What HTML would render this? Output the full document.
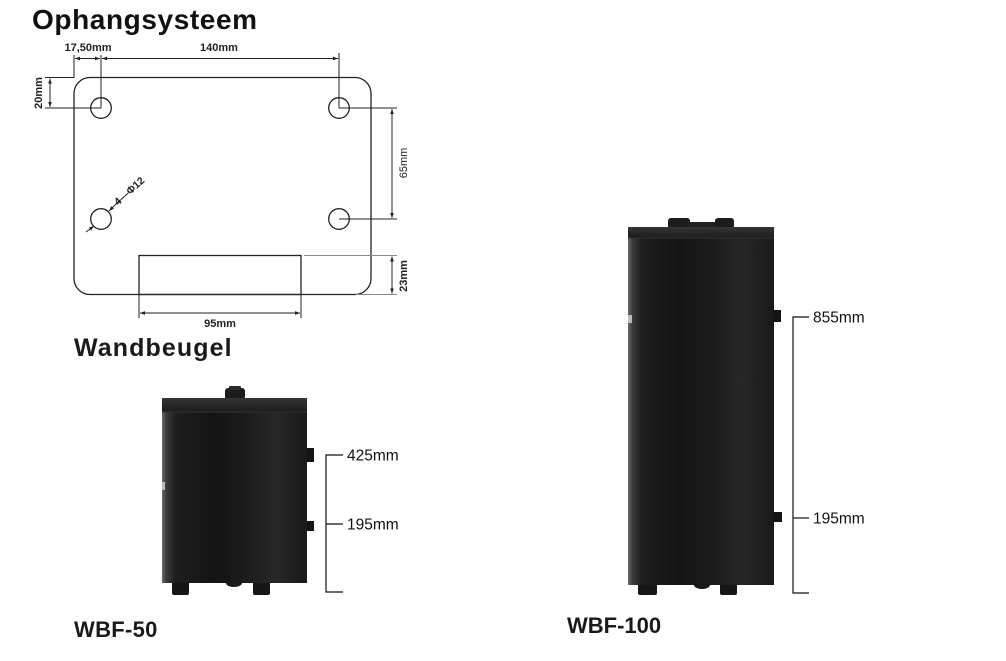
<!DOCTYPE html>
<html><head><meta charset="utf-8">
<style>
html,body{margin:0;padding:0;background:#fff;}
body{width:1006px;height:661px;overflow:hidden;position:relative;font-family:"Liberation Sans",sans-serif;}
svg{position:absolute;left:0;top:0;}
</style></head><body>
<svg width="1006" height="661" viewBox="0 0 1006 661" xmlns="http://www.w3.org/2000/svg">
<defs>
<linearGradient id="tank" x1="0" x2="1" y1="0" y2="0">
<stop offset="0" stop-color="#6a6a6a"/>
<stop offset="0.03" stop-color="#3c3c3c"/>
<stop offset="0.09" stop-color="#1e1e1e"/>
<stop offset="0.35" stop-color="#141414"/>
<stop offset="0.55" stop-color="#1a1a1a"/>
<stop offset="0.78" stop-color="#272727"/>
<stop offset="0.92" stop-color="#1e1e1e"/>
<stop offset="1" stop-color="#1a1a1a"/>
</linearGradient>
<linearGradient id="cap" x1="0" x2="0" y1="0" y2="1">
<stop offset="0" stop-color="#353535"/>
<stop offset="1" stop-color="#1c1c1c"/>
</linearGradient>
<marker id="ar" viewBox="0 0 6 6" refX="6" refY="3" markerWidth="5" markerHeight="5" orient="auto-start-reverse">
<path d="M0,0.8 L6,3 L0,5.2 z" fill="#222"/>
</marker>
</defs>

<!-- Titles -->
<text x="32" y="29" font-size="28" font-weight="bold" letter-spacing="0.6" fill="#111">Ophangsysteem</text>
<text x="74" y="356" font-size="25" font-weight="bold" letter-spacing="1.1" fill="#1a1a1a">Wandbeugel</text>
<text x="74" y="637" font-size="22" font-weight="bold" letter-spacing="0.3" fill="#1a1a1a">WBF-50</text>
<text x="567" y="633" font-size="22" font-weight="bold" fill="#1a1a1a">WBF-100</text>

<!-- Plate -->
<g fill="none" stroke="#222" stroke-width="1.3">
<rect x="74" y="77.5" width="297" height="217" rx="16"/>
<circle cx="101" cy="108" r="10.3"/>
<circle cx="339" cy="108" r="10.3"/>
<circle cx="101" cy="219" r="10.3"/>
<circle cx="339" cy="219" r="10.3"/>
<rect x="139" y="255.5" width="162" height="39"/>
</g>

<!-- dimension lines -->
<g fill="none" stroke="#222" stroke-width="1">
<line x1="74" y1="55" x2="74" y2="78"/>
<line x1="101" y1="55" x2="101" y2="108"/>
<line x1="339" y1="53" x2="339" y2="108"/>
<line x1="75" y1="58.5" x2="100" y2="58.5" marker-start="url(#ar)" marker-end="url(#ar)"/>
<line x1="102" y1="58.5" x2="338" y2="58.5" marker-start="url(#ar)" marker-end="url(#ar)"/>
<line x1="45" y1="77.5" x2="74" y2="77.5"/>
<line x1="45" y1="108" x2="101" y2="108"/>
<line x1="50" y1="78.5" x2="50" y2="107" marker-start="url(#ar)" marker-end="url(#ar)"/>
<line x1="339" y1="108" x2="397" y2="108"/>
<line x1="339" y1="219" x2="397" y2="219"/>
<line x1="392" y1="109" x2="392" y2="218" marker-start="url(#ar)" marker-end="url(#ar)"/>
<line x1="304" y1="255.5" x2="397" y2="255.5" stroke="#888"/>
<line x1="356" y1="294.5" x2="397" y2="294.5" stroke="#888"/>
<line x1="392" y1="256.5" x2="392" y2="293.5" marker-start="url(#ar)" marker-end="url(#ar)"/>
<line x1="139" y1="295" x2="139" y2="318"/>
<line x1="301" y1="295" x2="301" y2="318"/>
<line x1="140" y1="313" x2="300" y2="313" marker-start="url(#ar)" marker-end="url(#ar)"/>
<line x1="86" y1="232" x2="94" y2="226" marker-end="url(#ar)"/>
<line x1="120" y1="200" x2="109" y2="211" marker-end="url(#ar)"/>
</g>

<!-- dim texts -->
<g font-size="11" font-weight="bold" fill="#222">
<text x="88" y="51" text-anchor="middle">17,50mm</text>
<text x="219" y="51" text-anchor="middle">140mm</text>
<text x="220" y="327" text-anchor="middle">95mm</text>
<text transform="translate(42,93) rotate(-90)" text-anchor="middle">20mm</text>
<text transform="translate(407,163) rotate(-90)" text-anchor="middle" font-weight="normal">65mm</text>
<text transform="translate(407,276) rotate(-90)" text-anchor="middle">23mm</text>
<text transform="translate(118,206) rotate(-42)" font-size="10.5">4—Φ12</text>
</g>

<!-- WBF-50 tank -->
<g>
<rect x="225" y="388" width="20" height="12" rx="3" fill="#1c1c1c"/>
<rect x="229" y="386" width="12" height="4" rx="1" fill="#2a2a2a"/>
<rect x="172" y="580" width="17" height="15" rx="2" fill="#161616"/>
<rect x="253" y="580" width="17" height="15" rx="2" fill="#161616"/>
<ellipse cx="234" cy="583" rx="8" ry="4" fill="#1a1a1a"/>
<rect x="305" y="448" width="9" height="14" fill="#141414"/>
<rect x="305" y="521" width="9" height="10" fill="#141414"/>
<rect x="162" y="398" width="145" height="185" fill="url(#tank)"/>
<rect x="162" y="398" width="145" height="14" rx="2" fill="url(#cap)"/>
<line x1="162" y1="412" x2="307" y2="412" stroke="#333" stroke-width="1"/>
<rect x="162" y="482" width="3" height="8" fill="#bbb"/>
</g>
<g stroke="#111" stroke-width="1.2" fill="none">
<polyline points="343,455 326,455 326,592 343,592"/>
<line x1="326" y1="524" x2="343" y2="524"/>
</g>
<g font-size="15.5" fill="#111">
<text x="347" y="460.5">425mm</text>
<text x="347" y="529.5">195mm</text>
</g>

<!-- WBF-100 tank -->
<g>
<rect x="668" y="218" width="22" height="11" rx="3" fill="#1c1c1c"/>
<rect x="715" y="218" width="19" height="11" rx="3" fill="#1c1c1c"/>
<rect x="690" y="222" width="25" height="6" fill="#222"/>
<rect x="638" y="582" width="19" height="13" rx="2" fill="#161616"/>
<rect x="720" y="582" width="17" height="13" rx="2" fill="#161616"/>
<ellipse cx="702" cy="585" rx="8" ry="4" fill="#1a1a1a"/>
<rect x="772" y="310" width="9" height="12" fill="#141414"/>
<rect x="772" y="512" width="10" height="10" fill="#141414"/>
<rect x="628" y="227" width="146" height="358" fill="url(#tank)"/>
<rect x="628" y="227" width="146" height="11" rx="2" fill="url(#cap)"/>
<line x1="628" y1="238" x2="774" y2="238" stroke="#333" stroke-width="1"/>
<rect x="628" y="315" width="4" height="8" fill="#bbb"/>
</g>
<g stroke="#111" stroke-width="1.2" fill="none">
<polyline points="809,317 793,317 793,593 809,593"/>
<line x1="793" y1="518" x2="809" y2="518"/>
</g>
<g font-size="15.5" fill="#111">
<text x="813" y="322.5">855mm</text>
<text x="813" y="523.5">195mm</text>
</g>
</svg>
</body></html>
